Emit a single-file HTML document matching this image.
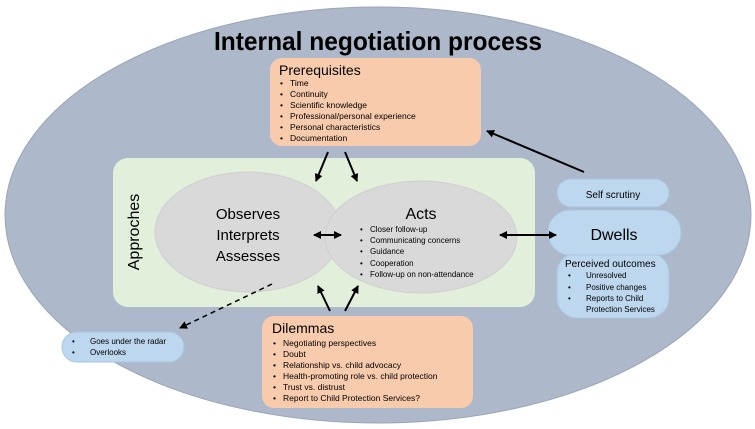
<!DOCTYPE html>
<html><head><meta charset="utf-8"><style>
html,body{margin:0;padding:0;background:#fff;}
svg{display:block;font-family:"Liberation Sans",sans-serif;}
</style></head><body>
<svg width="755" height="429" viewBox="0 0 755 429" xmlns="http://www.w3.org/2000/svg">
<defs>
<marker id="a" markerWidth="8" markerHeight="8" refX="7" refY="4" orient="auto" markerUnits="userSpaceOnUse"><path d="M0,0 L8,4 L0,8 z" fill="#000"/></marker>
<marker id="b" markerWidth="8" markerHeight="8" refX="1" refY="4" orient="auto" markerUnits="userSpaceOnUse"><path d="M8,0 L0,4 L8,8 z" fill="#000"/></marker>
</defs>
<ellipse cx="378" cy="215" rx="373" ry="208" fill="#adb9ca" stroke="#9aa6b8"/>
<text x="378" y="50" text-anchor="middle" font-size="26" font-weight="bold" textLength="328" lengthAdjust="spacingAndGlyphs" fill="#000">Internal negotiation process</text>

<rect x="270" y="58" width="211" height="88" rx="12" fill="#f8cbad"/>
<text x="279" y="75" font-size="14" fill="#000">Prerequisites</text>
<g font-size="8.5" fill="#000">
<text x="280" y="86">•</text><text x="290" y="86">Time</text>
<text x="280" y="97">•</text><text x="290" y="97">Continuity</text>
<text x="280" y="108">•</text><text x="290" y="108">Scientific knowledge</text>
<text x="280" y="119">•</text><text x="290" y="119">Professional/personal experience</text>
<text x="280" y="130">•</text><text x="290" y="130">Personal characteristics</text>
<text x="280" y="141">•</text><text x="290" y="141">Documentation</text>
</g>

<rect x="113" y="158" width="422" height="149" rx="15" fill="#e2efda"/>
<text transform="translate(139,232) rotate(-90)" text-anchor="middle" font-size="16" fill="#000">Approches</text>
<ellipse cx="248" cy="232" rx="93" ry="60" fill="#d9d9d9" stroke="#cfcfcf"/>
<ellipse cx="421" cy="237" rx="96" ry="56" fill="#d9d9d9" stroke="#cfcfcf"/>
<g font-size="15" text-anchor="middle" fill="#000">
<text x="248" y="219">Observes</text>
<text x="248" y="240">Interprets</text>
<text x="248" y="261">Assesses</text>
<text x="421" y="219" font-size="16">Acts</text>
</g>
<g font-size="8" fill="#000">
<text x="360" y="232">•</text><text x="370" y="232">Closer follow-up</text>
<text x="360" y="243">•</text><text x="370" y="243">Communicating concerns</text>
<text x="360" y="254">•</text><text x="370" y="254">Guidance</text>
<text x="360" y="266">•</text><text x="370" y="266">Cooperation</text>
<text x="360" y="277">•</text><text x="370" y="277">Follow-up on non-attendance</text>
</g>

<rect x="557" y="179" width="112" height="28" rx="14" fill="#bdd7ee" stroke="#a9c6e2"/>
<text x="613" y="198" text-anchor="middle" font-size="10" fill="#000">Self scrutiny</text>
<rect x="557" y="253" width="112" height="65" rx="20" fill="#bdd7ee" stroke="#a9c6e2"/>
<rect x="548" y="210" width="133" height="45" rx="22" fill="#bdd7ee" stroke="#a9c6e2"/>
<text x="614" y="240" text-anchor="middle" font-size="16" fill="#000">Dwells</text>
<text x="565" y="267" font-size="10" fill="#000">Perceived outcomes</text>
<g font-size="8" fill="#000">
<text x="568" y="278">•</text><text x="586" y="278">Unresolved</text>
<text x="568" y="290">•</text><text x="586" y="290">Positive changes</text>
<text x="568" y="301">•</text><text x="586" y="301">Reports to Child</text>
<text x="586" y="312">Protection  Services</text>
</g>

<rect x="62" y="332" width="122" height="30" rx="15" fill="#bdd7ee" stroke="#a9c6e2"/>
<g font-size="8" fill="#000">
<text x="72" y="344">•</text><text x="90" y="344">Goes under the radar</text>
<text x="72" y="355">•</text><text x="90" y="355">Overlooks</text>
</g>

<rect x="262" y="316" width="211" height="92" rx="12" fill="#f8cbad"/>
<text x="272" y="333" font-size="14" fill="#000">Dilemmas</text>
<g font-size="8.5" fill="#000">
<text x="273" y="346">•</text><text x="283" y="346">Negotiating perspectives</text>
<text x="273" y="357">•</text><text x="283" y="357">Doubt</text>
<text x="273" y="368">•</text><text x="283" y="368">Relationship vs. child advocacy</text>
<text x="273" y="379">•</text><text x="283" y="379">Health-promoting  role vs. child protection</text>
<text x="273" y="390">•</text><text x="283" y="390">Trust vs. distrust</text>
<text x="273" y="401">•</text><text x="283" y="401">Report to Child Protection  Services?</text>
</g>

<g stroke="#000" stroke-width="2" fill="none">
<line x1="328" y1="152" x2="316" y2="181" marker-end="url(#a)"/>
<line x1="345" y1="152" x2="357" y2="181" marker-end="url(#a)"/>
<line x1="330" y1="311" x2="318" y2="286" marker-end="url(#a)"/>
<line x1="345" y1="311" x2="358" y2="286" marker-end="url(#a)"/>
<line x1="314" y1="235" x2="341" y2="235" marker-start="url(#b)" marker-end="url(#a)"/>
<line x1="500" y1="235" x2="556" y2="235" marker-start="url(#b)" marker-end="url(#a)"/>
<line x1="584" y1="172" x2="487" y2="131" marker-end="url(#a)"/>
<line x1="272" y1="284" x2="180" y2="328" stroke-width="1.5" stroke-dasharray="5,4" marker-end="url(#a)"/>
</g>
</svg>
</body></html>
